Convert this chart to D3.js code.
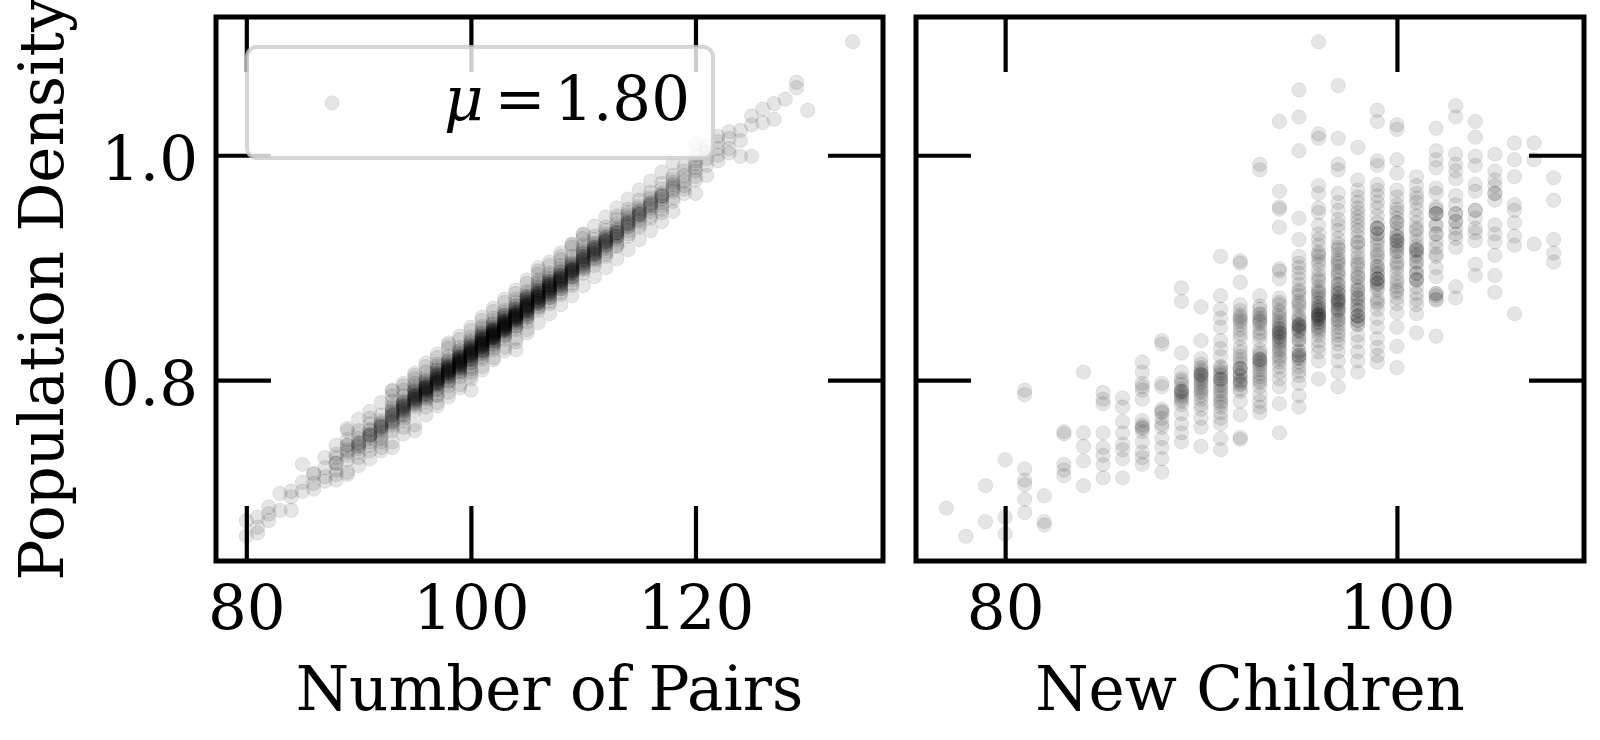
<!DOCTYPE html>
<html>
<head>
<meta charset="utf-8">
<script src="https://cdn.jsdelivr.net/npm/d3@7"></script>
<style>
  body { margin: 0; background: #fff; }
  svg text { font-family: 'DejaVu Serif', serif; fill: #000; }
</style>
</head>
<body>
<script>
// tick values
const densityTicks = [0.8, 1.0];
const pairsTicks = [80, 100, 120];
const childrenTicks = [80, 100];

const muValue = 1.80;

// [number of pairs, population densities seen in that column]
const pairsCols = [
  [80, [0.675, 0.661]],
  [81, [0.678, 0.664, 0.669]],
  [82, [0.687, 0.675, 0.681]],
  [83, [0.699, 0.684]],
  [84, [0.696, 0.684, 0.701]],
  [85, [0.725, 0.709, 0.701]],
  [86, [0.716, 0.717, 0.708, 0.703]],
  [87, [0.731, 0.722, 0.714, 0.710]],
  [88, [0.734, 0.726, 0.720, 0.731, 0.716, 0.726, 0.742, 0.711]],
  [89, [0.755, 0.742, 0.729, 0.716, 0.738, 0.733, 0.747, 0.742, 0.736, 0.757, 0.718]],
  [90, [0.755, 0.742, 0.731, 0.748, 0.739, 0.752, 0.736, 0.744, 0.744, 0.741, 0.765, 0.724]],
  [91, [0.761, 0.750, 0.737, 0.756, 0.745, 0.752, 0.766, 0.742, 0.751, 0.751, 0.748, 0.755, 0.772, 0.730]],
  [92, [0.758, 0.745, 0.740, 0.764, 0.753, 0.769, 0.757, 0.761, 0.750, 0.759, 0.759, 0.755, 0.762, 0.748, 0.780, 0.737]],
  [93, [0.791, 0.773, 0.758, 0.740, 0.768, 0.764, 0.777, 0.771, 0.762, 0.781, 0.766, 0.755, 0.769, 0.769, 0.772, 0.763, 0.775, 0.760,
    0.790, 0.745, 0.786]],
  [94, [0.791, 0.778, 0.758, 0.774, 0.781, 0.770, 0.786, 0.776, 0.768, 0.764, 0.779, 0.772, 0.777, 0.777, 0.773, 0.782, 0.769, 0.775, 0.766, 0.780,
    0.797, 0.752, 0.795]],
  [95, [0.804, 0.794, 0.784, 0.755, 0.786, 0.781, 0.789, 0.783, 0.778, 0.791, 0.786, 0.773, 0.797, 0.780,
    0.785, 0.785, 0.782, 0.788, 0.779, 0.792, 0.776, 0.787, 0.783, 0.790, 0.806, 0.760, 0.801]],
  [96, [0.807, 0.794, 0.790, 0.787, 0.796, 0.785, 0.799, 0.792, 0.781, 0.802, 0.793, 0.788, 0.776, 0.797, 0.791, 0.784,
    0.793, 0.793, 0.789, 0.795, 0.786, 0.798, 0.791, 0.783, 0.800, 0.794, 0.788, 0.815, 0.769, 0.812]],
  [97, [0.814, 0.797, 0.787, 0.803, 0.799, 0.808, 0.795, 0.801, 0.791, 0.806, 0.798, 0.812, 0.793, 0.804, 0.800, 0.786, 0.809,
    0.801, 0.801, 0.797, 0.804, 0.796, 0.806, 0.799, 0.810, 0.792, 0.802, 0.798, 0.805, 0.823, 0.777, 0.820, 0.780]],
  [98, [0.833, 0.814, 0.806, 0.809, 0.802, 0.811, 0.817, 0.805, 0.798, 0.812, 0.808, 0.821, 0.803, 0.810, 0.795, 0.815, 0.807, 0.800,
    0.809, 0.809, 0.806, 0.813, 0.803, 0.816, 0.808, 0.799, 0.811, 0.804, 0.818, 0.807, 0.812, 0.831, 0.785, 0.828, 0.789]],
  [99, [0.820, 0.807, 0.814, 0.823, 0.811, 0.818, 0.826, 0.809, 0.816, 0.803, 0.821, 0.813, 0.829, 0.817, 0.806, 0.819, 0.812, 0.824, 0.815,
    0.817, 0.817, 0.814, 0.820, 0.811, 0.823, 0.816, 0.808, 0.819, 0.813, 0.826, 0.815, 0.821, 0.810, 0.839, 0.793, 0.836, 0.796]],
  [100, [0.830, 0.820, 0.807, 0.791, 0.827, 0.822, 0.833, 0.818, 0.825, 0.838, 0.815, 0.829, 0.823, 0.812, 0.835, 0.826, 0.819, 0.831, 0.824, 0.810,
    0.825, 0.825, 0.822, 0.828, 0.819, 0.831, 0.824, 0.816, 0.827, 0.821, 0.834, 0.823, 0.829, 0.818, 0.847, 0.801, 0.844, 0.804]],
  [101, [0.840, 0.827, 0.835, 0.830, 0.838, 0.825, 0.843, 0.832, 0.821, 0.836, 0.829, 0.846, 0.834, 0.823, 0.839, 0.831, 0.848, 0.826, 0.837, 0.833, 0.819, 0.841,
    0.833, 0.833, 0.830, 0.836, 0.827, 0.839, 0.832, 0.824, 0.835, 0.829, 0.842, 0.831, 0.837, 0.826, 0.856, 0.809, 0.853, 0.812]],
  [102, [0.850, 0.840, 0.827, 0.843, 0.838, 0.846, 0.835, 0.842, 0.839, 0.852, 0.831, 0.844, 0.837, 0.848, 0.841, 0.833, 0.855, 0.840, 0.845, 0.829, 0.843, 0.838,
    0.841, 0.841, 0.838, 0.844, 0.835, 0.847, 0.840, 0.832, 0.843, 0.837, 0.850, 0.839, 0.845, 0.834, 0.864, 0.818, 0.861, 0.820]],
  [103, [0.857, 0.845, 0.850, 0.843, 0.853, 0.848, 0.860, 0.846, 0.839, 0.855, 0.851, 0.844, 0.862, 0.849, 0.836, 0.856, 0.847, 0.852, 0.841, 0.858, 0.850, 0.845,
    0.849, 0.849, 0.846, 0.852, 0.843, 0.855, 0.848, 0.840, 0.851, 0.845, 0.858, 0.847, 0.853, 0.872, 0.826, 0.869, 0.829]],
  [104, [0.880, 0.863, 0.847, 0.827, 0.858, 0.854, 0.861, 0.856, 0.866, 0.851, 0.859, 0.869, 0.853, 0.862, 0.845, 0.857, 0.872, 0.855, 0.860, 0.849, 0.864, 0.858,
    0.857, 0.857, 0.854, 0.860, 0.851, 0.863, 0.856, 0.848, 0.859, 0.853, 0.866, 0.855, 0.877, 0.834, 0.837]],
  [105, [0.873, 0.866, 0.861, 0.870, 0.857, 0.868, 0.875, 0.863, 0.855, 0.871, 0.865, 0.879, 0.859, 0.867, 0.874, 0.862, 0.852, 0.869, 0.877, 0.864, 0.858, 0.872,
    0.866, 0.866, 0.862, 0.869, 0.859, 0.872, 0.864, 0.856, 0.867, 0.861, 0.874, 0.889, 0.842, 0.886, 0.845]],
  [106, [0.900, 0.887, 0.873, 0.876, 0.869, 0.880, 0.871, 0.878, 0.866, 0.883, 0.874, 0.862, 0.879, 0.885, 0.870, 0.877, 0.868, 0.882, 0.875, 0.864, 0.889,
    0.874, 0.874, 0.871, 0.877, 0.868, 0.880, 0.873, 0.865, 0.876, 0.870, 0.897, 0.851, 0.894]],
  [107, [0.893, 0.880, 0.884, 0.877, 0.888, 0.873, 0.886, 0.879, 0.891, 0.870, 0.883, 0.876, 0.895, 0.881, 0.868, 0.887, 0.878, 0.885, 0.874, 0.890,
    0.882, 0.882, 0.879, 0.885, 0.876, 0.888, 0.881, 0.873, 0.884, 0.905, 0.859, 0.902]],
  [108, [0.907, 0.887, 0.892, 0.885, 0.896, 0.881, 0.894, 0.888, 0.899, 0.878, 0.891, 0.884, 0.902, 0.889, 0.876, 0.897, 0.886, 0.893, 0.882,
    0.890, 0.890, 0.887, 0.893, 0.884, 0.896, 0.889, 0.881, 0.913, 0.867, 0.910]],
  [109, [0.920, 0.897, 0.900, 0.893, 0.905, 0.889, 0.902, 0.896, 0.910, 0.886, 0.899, 0.892, 0.907, 0.895, 0.884, 0.903, 0.898, 0.891,
    0.898, 0.898, 0.895, 0.901, 0.892, 0.904, 0.897, 0.921, 0.875, 0.918]],
  [110, [0.930, 0.913, 0.907, 0.902, 0.910, 0.898, 0.915, 0.904, 0.920, 0.895, 0.909, 0.901, 0.917, 0.905, 0.912, 0.899,
    0.907, 0.907, 0.903, 0.910, 0.900, 0.913, 0.929, 0.884, 0.926]],
  [111, [0.907, 0.918, 0.912, 0.922, 0.909, 0.916, 0.928, 0.905, 0.919, 0.913, 0.925, 0.902, 0.917, 0.911, 0.921,
    0.915, 0.915, 0.912, 0.918, 0.908, 0.937, 0.892]],
  [112, [0.936, 0.923, 0.919, 0.927, 0.914, 0.930, 0.921, 0.912, 0.925, 0.933, 0.917, 0.928, 0.910, 0.924, 0.923, 0.923, 0.920, 0.926,
    0.945, 0.900]],
  [113, [0.943, 0.931, 0.927, 0.936, 0.922, 0.939, 0.929, 0.919, 0.934, 0.946, 0.925, 0.933, 0.920, 0.931, 0.931, 0.928, 0.953, 0.908]],
  [114, [0.949, 0.933, 0.941, 0.937, 0.945, 0.930, 0.943, 0.936, 0.952, 0.928, 0.940, 0.947, 0.939, 0.939, 0.961, 0.916]],
  [115, [0.943, 0.950, 0.955, 0.946, 0.938, 0.953, 0.947, 0.960, 0.941, 0.951, 0.936, 0.948, 0.948, 0.969, 0.925]],
  [116, [0.963, 0.955, 0.950, 0.958, 0.946, 0.961, 0.953, 0.967, 0.944, 0.957, 0.956, 0.977, 0.933]],
  [117, [0.958, 0.949, 0.966, 0.961, 0.970, 0.955, 0.963, 0.975, 0.952, 0.964, 0.964, 0.985, 0.941]],
  [118, [0.976, 0.968, 0.974, 0.962, 0.979, 0.970, 0.982, 0.959, 0.972, 0.993, 0.950]],
  [119, [0.966, 0.982, 0.977, 0.986, 0.973, 0.990, 0.970]],
  [120, [0.986, 0.992, 0.981, 0.995, 0.978, 1.000, 0.989, 1.010, 0.966]],
  [121, [0.982, 0.997, 1.003, 0.991, 1.008]],
  [122, [1.012, 1.000, 1.006, 0.995, 1.017]],
  [123, [1.006, 1.015, 1.021, 1.002]],
  [124, [1.022, 0.999, 1.013]],
  [125, [0.999, 1.027, 1.035]],
  [126, [1.029, 1.041]],
  [127, [1.032, 1.046]],
  [128, [1.050]],
  [129, [1.060, 1.065]],
  [130, [1.040]],
  [134, [1.101]],
];

// [new children, population densities seen in that column]
const childrenCols = [
  [77, [0.686]],
  [78, [0.661]],
  [79, [0.706, 0.674]],
  [80, [0.729, 0.678, 0.663]],
  [81, [0.791, 0.787, 0.721, 0.711, 0.707, 0.694, 0.682]],
  [82, [0.697, 0.674, 0.671]],
  [83, [0.754, 0.752, 0.725, 0.720, 0.715]],
  [84, [0.807, 0.753, 0.741, 0.728, 0.706]],
  [85, [0.789, 0.783, 0.779, 0.753, 0.740, 0.733, 0.725, 0.713]],
  [86, [0.784, 0.776, 0.763, 0.753, 0.743, 0.738, 0.730, 0.713]],
  [87, [0.816, 0.807, 0.794, 0.791, 0.783, 0.764, 0.760, 0.757, 0.754, 0.745, 0.736, 0.731, 0.725, 0.797, 0.758]],
  [88, [0.835, 0.832, 0.797, 0.794, 0.774, 0.771, 0.761, 0.758, 0.748, 0.740, 0.730, 0.718, 0.766, 0.772]],
  [89, [0.882, 0.870, 0.824, 0.807, 0.801, 0.799, 0.792, 0.789, 0.787, 0.783, 0.778, 0.770, 0.761, 0.753, 0.745, 0.796,
    0.790, 0.790, 0.785, 0.781]],
  [90, [0.865, 0.835, 0.819, 0.814, 0.811, 0.807, 0.804, 0.802, 0.796, 0.793, 0.789, 0.783, 0.778, 0.774, 0.766, 0.758, 0.741, 0.800,
    0.805, 0.805, 0.798, 0.791, 0.786, 0.809]],
  [91, [0.910, 0.875, 0.863, 0.855, 0.847, 0.835, 0.828, 0.821, 0.811, 0.808, 0.804, 0.800, 0.797, 0.792, 0.787, 0.781, 0.776, 0.771, 0.766, 0.761, 0.748, 0.738,
    0.801, 0.801, 0.795, 0.790, 0.806, 0.784, 0.812, 0.779]],
  [92, [0.906, 0.904, 0.887, 0.867, 0.862, 0.858, 0.854, 0.849, 0.845, 0.841, 0.837, 0.829, 0.821, 0.815, 0.811, 0.806, 0.804, 0.800, 0.799, 0.796, 0.792, 0.781, 0.769, 0.749, 0.747,
    0.810, 0.810, 0.803, 0.797, 0.856, 0.852, 0.818, 0.790, 0.825]],
  [93, [0.992, 0.987, 0.875, 0.866, 0.863, 0.859, 0.855, 0.852, 0.850, 0.846, 0.842, 0.835, 0.824, 0.819, 0.816, 0.812, 0.809, 0.803, 0.798, 0.794, 0.787, 0.781, 0.776, 0.771,
    0.818, 0.818, 0.814, 0.806, 0.822, 0.800, 0.827, 0.858, 0.853, 0.840]],
  [94, [1.030, 0.968, 0.954, 0.952, 0.936, 0.899, 0.897, 0.890, 0.873, 0.867, 0.862, 0.857, 0.852, 0.848, 0.846, 0.843, 0.840, 0.838, 0.835, 0.832, 0.829, 0.825, 0.821, 0.816, 0.812, 0.807, 0.801, 0.794, 0.779, 0.753,
    0.842, 0.842, 0.838, 0.845, 0.834, 0.850, 0.827, 0.855, 0.819, 0.860, 0.869]],
  [95, [1.058, 1.034, 1.004, 0.944, 0.925, 0.910, 0.904, 0.900, 0.895, 0.890, 0.885, 0.880, 0.875, 0.870, 0.866, 0.862, 0.857, 0.853, 0.850, 0.848, 0.847, 0.845, 0.843, 0.840, 0.836, 0.832, 0.825, 0.819, 0.812, 0.808, 0.804, 0.797, 0.786, 0.776,
    0.822, 0.822, 0.820, 0.826, 0.816, 0.849, 0.849, 0.844, 0.855, 0.836, 0.868, 0.878]],
  [96, [1.101, 1.019, 1.015, 0.973, 0.966, 0.953, 0.949, 0.938, 0.930, 0.925, 0.920, 0.914, 0.910, 0.906, 0.903, 0.898, 0.893, 0.888, 0.883, 0.880, 0.877, 0.874, 0.872, 0.868, 0.865, 0.863, 0.860, 0.859, 0.857, 0.855, 0.854, 0.851, 0.847, 0.843, 0.840, 0.835, 0.830, 0.825, 0.817, 0.801,
    0.858, 0.858, 0.854, 0.862, 0.851, 0.865, 0.856, 0.848, 0.869, 0.845, 0.878, 0.890, 0.912]],
  [97, [1.062, 1.015, 0.992, 0.987, 0.966, 0.958, 0.951, 0.943, 0.938, 0.933, 0.926, 0.921, 0.916, 0.912, 0.908, 0.904, 0.901, 0.897, 0.893, 0.889, 0.885, 0.881, 0.877, 0.874, 0.870, 0.867, 0.863, 0.860, 0.857, 0.854, 0.850, 0.847, 0.843, 0.840, 0.836, 0.832, 0.825, 0.817, 0.807, 0.794,
    0.872, 0.872, 0.868, 0.877, 0.864, 0.880, 0.870, 0.862, 0.885, 0.895, 0.906, 0.918, 0.853]],
  [98, [1.007, 0.978, 0.969, 0.963, 0.958, 0.953, 0.949, 0.945, 0.941, 0.937, 0.933, 0.928, 0.923, 0.918, 0.913, 0.909, 0.905, 0.900, 0.895, 0.891, 0.887, 0.883, 0.880, 0.876, 0.873, 0.870, 0.867, 0.862, 0.857, 0.853, 0.849, 0.840, 0.834, 0.825, 0.817, 0.807,
    0.857, 0.857, 0.853, 0.862, 0.850, 0.866, 0.873, 0.880, 0.892, 0.903, 0.922]],
  [99, [1.040, 1.030, 0.995, 0.991, 0.974, 0.969, 0.964, 0.958, 0.953, 0.946, 0.940, 0.935, 0.930, 0.926, 0.923, 0.920, 0.915, 0.910, 0.906, 0.901, 0.898, 0.895, 0.890, 0.887, 0.885, 0.880, 0.873, 0.868, 0.863, 0.855, 0.847, 0.837, 0.829, 0.822, 0.816,
    0.890, 0.890, 0.886, 0.894, 0.935, 0.935, 0.930, 0.882, 0.901, 0.912, 0.870]],
  [100, [1.027, 1.023, 0.996, 0.984, 0.969, 0.963, 0.956, 0.952, 0.949, 0.944, 0.940, 0.935, 0.931, 0.927, 0.923, 0.918, 0.914, 0.910, 0.905, 0.900, 0.895, 0.887, 0.883, 0.880, 0.873, 0.868, 0.860, 0.847, 0.830, 0.811,
    0.924, 0.924, 0.920, 0.928, 0.915, 0.903, 0.890, 0.878, 0.940]],
  [101, [0.981, 0.973, 0.966, 0.962, 0.958, 0.952, 0.946, 0.940, 0.933, 0.928, 0.923, 0.919, 0.915, 0.910, 0.905, 0.900, 0.895, 0.890, 0.883, 0.877, 0.872, 0.867, 0.859, 0.842,
    0.916, 0.916, 0.912, 0.889, 0.889, 0.895, 0.905, 0.935]],
  [102, [1.024, 1.004, 0.996, 0.989, 0.971, 0.966, 0.954, 0.952, 0.948, 0.939, 0.937, 0.930, 0.923, 0.918, 0.910, 0.900, 0.892, 0.875, 0.872, 0.871, 0.839,
    0.948, 0.948, 0.877, 0.877, 0.912, 0.930]],
  [103, [1.044, 1.034, 1.001, 0.992, 0.986, 0.979, 0.964, 0.956, 0.948, 0.941, 0.935, 0.926, 0.918, 0.883, 0.873, 0.948, 0.941, 0.930]],
  [104, [1.030, 1.016, 0.999, 0.991, 0.974, 0.968, 0.951, 0.944, 0.931, 0.924, 0.903, 0.893, 0.951, 0.935]],
  [105, [1.001, 0.986, 0.978, 0.973, 0.966, 0.960, 0.938, 0.930, 0.923, 0.911, 0.893, 0.878, 0.966]],
  [106, [1.011, 0.996, 0.981, 0.956, 0.951, 0.940, 0.928, 0.920, 0.859]],
  [107, [1.011, 0.996, 0.921]],
  [108, [0.980, 0.960, 0.925, 0.913, 0.905]],
];

const width = 1600;
const height = 740;
const plotTop = 17;
const plotBottom = 561;
const tickLen = 55;
const fontSize = 61;
const dotR = 7.2;

const flat = (cols) => cols.flatMap(([x, ys]) => ys.map((y) => ({ x, y })));

// matplotlib-style 5% margins
const padded = ([lo, hi]) => {
  const m = (hi - lo) * 0.05;
  return [lo - m, hi + m];
};

const svg = d3.select('body').append('svg')
  .attr('width', width)
  .attr('height', height);

const allDensity = [...flat(pairsCols), ...flat(childrenCols)].map((d) => d.y);

const y = d3.scaleLinear()
  .domain(padded(d3.extent(allDensity)))
  .range([plotBottom, plotTop]);

const panels = [
  {
    x0: 216, x1: 883, cols: pairsCols, ticks: pairsTicks,
    label: 'Number of Pairs', yLabels: true, legend: true,
  },
  {
    x0: 916, x1: 1584, cols: childrenCols, ticks: childrenTicks,
    label: 'New Children', yLabels: false, legend: false,
  },
];

function styleAxis(g) {
  g.attr('font-family', null).attr('font-size', null);
  g.select('.domain').remove();
  g.selectAll('line')
    .attr('stroke', '#000')
    .attr('stroke-width', 4.2);
  g.selectAll('text')
    .attr('font-size', fontSize)
    .attr('fill', '#000');
}

// translucent dot with an edge of the same colour, like matplotlib scatter
function dot(sel) {
  sel.attr('r', dotR)
    .attr('fill', '#000')
    .attr('fill-opacity', 0.1)
    .attr('stroke', '#000')
    .attr('stroke-opacity', 0.08)
    .attr('stroke-width', 1);
}

function drawPanel(p, i) {
  const pts = flat(p.cols);
  const x = d3.scaleLinear()
    .domain(padded(d3.extent(pts, (d) => d.x)))
    .range([p.x0, p.x1]);

  const g = svg.append('g').attr('class', `panel-${i}`);

  g.append('clipPath')
    .attr('id', `clip-${i}`)
    .append('rect')
    .attr('x', p.x0)
    .attr('y', plotTop)
    .attr('width', p.x1 - p.x0)
    .attr('height', plotBottom - plotTop);

  g.append('g')
    .attr('clip-path', `url(#clip-${i})`)
    .selectAll('circle')
    .data(pts)
    .join('circle')
    .attr('cx', (d) => x(d.x))
    .attr('cy', (d) => y(d.y))
    .call(dot);

  // ticks point inward on all four sides
  g.append('g')
    .attr('transform', `translate(0,${plotBottom})`)
    .call(d3.axisBottom(x).tickValues(p.ticks).tickSize(-tickLen)
      .tickPadding(25).tickFormat(d3.format('d')))
    .call(styleAxis);

  g.append('g')
    .attr('transform', `translate(0,${plotTop})`)
    .call(d3.axisTop(x).tickValues(p.ticks).tickSize(-tickLen).tickFormat(''))
    .call(styleAxis);

  g.append('g')
    .attr('transform', `translate(${p.x0},0)`)
    .call(d3.axisLeft(y).tickValues(densityTicks).tickSize(-tickLen)
      .tickPadding(18).tickFormat(p.yLabels ? d3.format('.1f') : ''))
    .call(styleAxis)
    .call((a) => a.selectAll('text').attr('dy', '0.4em'));

  g.append('g')
    .attr('transform', `translate(${p.x1},0)`)
    .call(d3.axisRight(y).tickValues(densityTicks).tickSize(-tickLen).tickFormat(''))
    .call(styleAxis);

  g.append('rect')
    .attr('x', p.x0)
    .attr('y', plotTop)
    .attr('width', p.x1 - p.x0)
    .attr('height', plotBottom - plotTop)
    .attr('fill', 'none')
    .attr('stroke', '#000')
    .attr('stroke-width', 5);

  g.append('text')
    .attr('x', (p.x0 + p.x1) / 2)
    .attr('y', 710)
    .attr('text-anchor', 'middle')
    .attr('font-size', fontSize)
    .text(p.label);

  if (p.yLabels) {
    g.append('text')
      .attr('transform', `translate(63,${(plotTop + plotBottom) / 2}) rotate(-90)`)
      .attr('text-anchor', 'middle')
      .attr('font-size', fontSize)
      .text('Population Density');
  }

  if (p.legend) {
    const leg = g.append('g');
    leg.append('rect')
      .attr('x', 247)
      .attr('y', 47)
      .attr('width', 466)
      .attr('height', 111)
      .attr('rx', 10)
      .attr('fill', '#fff')
      .attr('fill-opacity', 0.8)
      .attr('stroke', '#ccc')
      .attr('stroke-opacity', 0.8)
      .attr('stroke-width', 4);
    leg.append('circle')
      .attr('cx', 332)
      .attr('cy', 103)
      .call(dot);
    leg.append('text')
      .attr('x', 444)
      .attr('y', 120)
      .attr('font-size', fontSize)
      .attr('font-style', 'italic')
      .text('μ');
    leg.append('text')
      .attr('x', 520)
      .attr('y', 120)
      .attr('text-anchor', 'middle')
      .attr('font-size', fontSize)
      .text('=');
    leg.append('text')
      .attr('x', 690)
      .attr('y', 120)
      .attr('text-anchor', 'end')
      .attr('font-size', fontSize)
      .text(d3.format('.2f')(muValue));
  }
}

panels.forEach(drawPanel);
</script>
</body>
</html>
